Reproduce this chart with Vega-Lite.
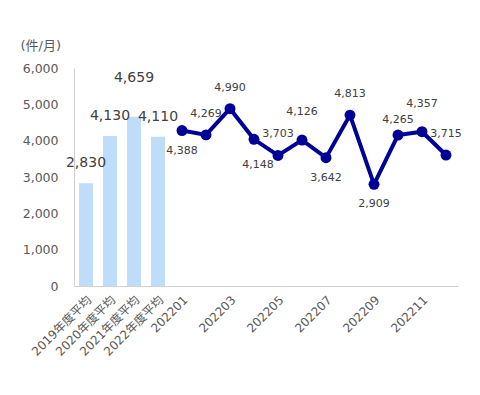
{
  "$schema": "https://vega.github.io/schema/vega-lite/v6.json",
  "width": 384,
  "height": 218,
  "autosize": {"type": "none"},
  "padding": {"left": 74, "top": 68, "right": 22, "bottom": 109},
  "config": {"view": {"stroke": null}, "font": "DejaVu Sans, Noto Sans CJK JP"},
  "datasets": {
    "avg": [
      {"period": "2019年度平均", "count": 2830},
      {"period": "2020年度平均", "count": 4130},
      {"period": "2021年度平均", "count": 4659},
      {"period": "2022年度平均", "count": 4110}
    ],
    "monthly": [
      {"period": "202201", "count": 4388},
      {"period": "202202", "count": 4269},
      {"period": "202203", "count": 4990},
      {"period": "202204", "count": 4148},
      {"period": "202205", "count": 3703},
      {"period": "202206", "count": 4126},
      {"period": "202207", "count": 3642},
      {"period": "202208", "count": 4813},
      {"period": "202209", "count": 2909},
      {"period": "202210", "count": 4265},
      {"period": "202211", "count": 4357},
      {"period": "202212", "count": 3715}
    ]
  },
  "encoding": {
    "x": {
      "field": "period",
      "type": "nominal",
      "scale": {
        "domain": ["2019年度平均", "2020年度平均", "2021年度平均", "2022年度平均", "202201", "202202", "202203", "202204", "202205", "202206", "202207", "202208", "202209", "202210", "202211", "202212"],
        "paddingInner": 0.42,
        "paddingOuter": 0.21
      },
      "axis": {
        "title": null,
        "labelAngle": -45,
        "ticks": false,
        "labelOverlap": false,
        "domainColor": "#d0d0d0",
        "labelColor": "#595959",
        "labelFontSize": 12,
        "labelPadding": 8,
        "values": ["2019年度平均", "2020年度平均", "2021年度平均", "2022年度平均", "202201", "202203", "202205", "202207", "202209", "202211"]
      }
    }
  },
  "layer": [
    {
      "data": {"name": "avg"},
      "encoding": {
        "y": {
          "field": "count",
          "type": "quantitative",
          "scale": {"domain": [0, 6000], "nice": false},
          "axis": {
            "title": "(件/月)",
            "titleAngle": 0,
            "titleX": -54,
            "titleY": -23,
            "titleAlign": "left",
            "titleBaseline": "middle",
            "titleFontWeight": "normal",
            "titleFontSize": 13,
            "titleColor": "#595959",
            "values": [0, 1000, 2000, 3000, 4000, 5000, 6000],
            "format": ",.0f",
            "grid": false,
            "ticks": false,
            "labelPadding": 16,
            "labelFontSize": 12.5,
            "labelColor": "#595959",
            "domainColor": "#d0d0d0"
          }
        }
      },
      "layer": [
        {"mark": {"type": "bar", "color": "#BDDDFB"}},
        {
          "transform": [{"filter": "datum.count != 4659"}],
          "mark": {"type": "text", "fontSize": 14, "color": "#404040", "baseline": "middle", "dy": -20},
          "encoding": {"text": {"field": "count", "format": ",.0f"}}
        },
        {
          "transform": [{"filter": "datum.count == 4659"}],
          "mark": {"type": "text", "fontSize": 14, "color": "#404040", "baseline": "middle", "dy": -39},
          "encoding": {"text": {"field": "count", "format": ",.0f"}}
        }
      ]
    },
    {
      "data": {"name": "monthly"},
      "encoding": {
        "y": {
          "field": "count",
          "type": "quantitative",
          "scale": {"domain": [110, 6110], "nice": false, "zero": false},
          "axis": null
        }
      },
      "layer": [
        {
          "data": {"values": [{}]},
          "mark": {"type": "rule", "color": "#d9d9d9", "strokeWidth": 1},
          "encoding": {
            "x": {"datum": "202201", "bandPosition": 0},
            "x2": {"datum": "202212", "bandPosition": 1},
            "y": {"datum": 0}
          }
        },
        {"mark": {"type": "line", "color": "#000096", "strokeWidth": 4}},
        {"mark": {"type": "point", "filled": true, "opacity": 1, "color": "#000096", "size": 120}},
        {
          "transform": [{"filter": {"field": "period", "oneOf": ["202202", "202203", "202205", "202208", "202212"]}}],
          "mark": {"type": "text", "fontSize": 11, "color": "#404040", "baseline": "middle", "dy": -21},
          "encoding": {"text": {"field": "count", "format": ",.0f"}}
        },
        {
          "transform": [{"filter": {"field": "period", "oneOf": ["202206", "202211"]}}],
          "mark": {"type": "text", "fontSize": 11, "color": "#404040", "baseline": "middle", "dy": -28},
          "encoding": {"text": {"field": "count", "format": ",.0f"}}
        },
        {
          "transform": [{"filter": {"field": "period", "oneOf": ["202210"]}}],
          "mark": {"type": "text", "fontSize": 11, "color": "#404040", "baseline": "middle", "dy": -15},
          "encoding": {"text": {"field": "count", "format": ",.0f"}}
        },
        {
          "transform": [{"filter": {"field": "period", "oneOf": ["202201", "202207", "202209"]}}],
          "mark": {"type": "text", "fontSize": 11, "color": "#404040", "baseline": "middle", "dy": 20},
          "encoding": {"text": {"field": "count", "format": ",.0f"}}
        },
        {
          "transform": [{"filter": {"field": "period", "oneOf": ["202204"]}}],
          "mark": {"type": "text", "fontSize": 11, "color": "#404040", "baseline": "middle", "dy": 26, "dx": 4},
          "encoding": {"text": {"field": "count", "format": ",.0f"}}
        }
      ]
    }
  ],
  "resolve": {"scale": {"y": "independent"}}
}
